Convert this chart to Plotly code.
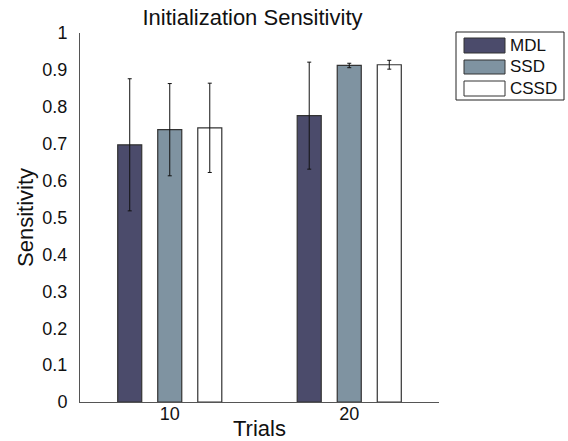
import plotly.graph_objects as go

categories = ["10", "20"]
series_names = ["MDL", "SSD", "CSSD"]
mdl_vals = [0.697, 0.776]
mdl_err = [0.179, 0.145]
ssd_vals = [0.738, 0.912]
ssd_err = [0.125, 0.006]
cssd_vals = [0.743, 0.914]
cssd_err = [0.121, 0.012]
colors = ["#4b4b6b", "#7f93a1", "#ffffff"]
x_title = "Trials"

values = [mdl_vals, ssd_vals, cssd_vals]
errors = [mdl_err, ssd_err, cssd_err]

FONT = "Liberation Sans, Arial, Helvetica, sans-serif"

fig = go.Figure()
for name, v, e, c in zip(series_names, values, errors, colors):
    fig.add_trace(go.Bar(
        x=categories, y=v, name=name,
        marker=dict(color=c, line=dict(color="#333333", width=1.2)),
        error_y=dict(type="data", array=e, visible=True, color="#111111",
                     thickness=1, width=2),
        showlegend=False,
    ))

L, R, T, B = 80, 129, 33, 39
W, H = 568, 441
pw, ph = W - L - R, H - T - B

def px(x):
    return (x - L) / pw

def py(y):
    return (H - B - y) / ph

shapes = [
    dict(type="rect", xref="paper", yref="paper",
         x0=px(456), x1=px(564), y0=py(100), y1=py(32),
         line=dict(color="#222222", width=1), fillcolor="white"),
]
annotations = [
    dict(xref="paper", yref="paper", x=0.5, y=py(428), text=x_title,
         showarrow=False, xanchor="center", yanchor="middle",
         font=dict(size=22, color="#111111", family=FONT)),
]
sw_y = [(38, 53), (60, 74), (81, 96)]
for (y0, y1), name, c in zip(sw_y, series_names, colors):
    shapes.append(dict(type="rect", xref="paper", yref="paper",
                       x0=px(464), x1=px(505), y0=py(y1), y1=py(y0),
                       line=dict(color="#333333", width=1), fillcolor=c))
    annotations.append(dict(xref="paper", yref="paper", x=px(508),
                            y=py((y0 + y1) / 2), text=name, showarrow=False,
                            xanchor="left", yanchor="middle",
                            font=dict(size=17, color="#111111", family=FONT)))

fig.update_layout(
    width=W, height=H,
    margin=dict(l=L, r=R, t=T, b=B, pad=0),
    paper_bgcolor="white", plot_bgcolor="white",
    barmode="group", bargap=0.331, bargroupgap=0.4,
    font=dict(family=FONT, size=18, color="#111111"),
    title=dict(text="Initialization Sensitivity", x=0.4445, xanchor="center",
               y=0.9615, yanchor="middle", font=dict(size=22, family=FONT)),
    xaxis=dict(showline=True, linecolor="#555555", linewidth=1,
               showgrid=False, ticks="", zeroline=False, automargin=False,
               tickfont=dict(size=18), ticklabelstandoff=-5),
    yaxis=dict(range=[0, 1], showline=True, linecolor="#555555", linewidth=1,
               showgrid=False, ticks="", zeroline=False, automargin=False,
               tickvals=[0, 0.1, 0.2, 0.3, 0.4, 0.5, 0.6, 0.7, 0.8, 0.9, 1],
               ticktext=["0", "0.1", "0.2", "0.3", "0.4", "0.5", "0.6", "0.7",
                         "0.8", "0.9", "1"],
               ticklabelstandoff=8, tickfont=dict(size=18),
               title=dict(text="Sensitivity", standoff=2, font=dict(size=22))),
    shapes=shapes, annotations=annotations,
)

fig.write_html("out.html", config={"displayModeBar": False},
               post_script="document.body.style.margin='0px';document.body.style.overflow='hidden';")
